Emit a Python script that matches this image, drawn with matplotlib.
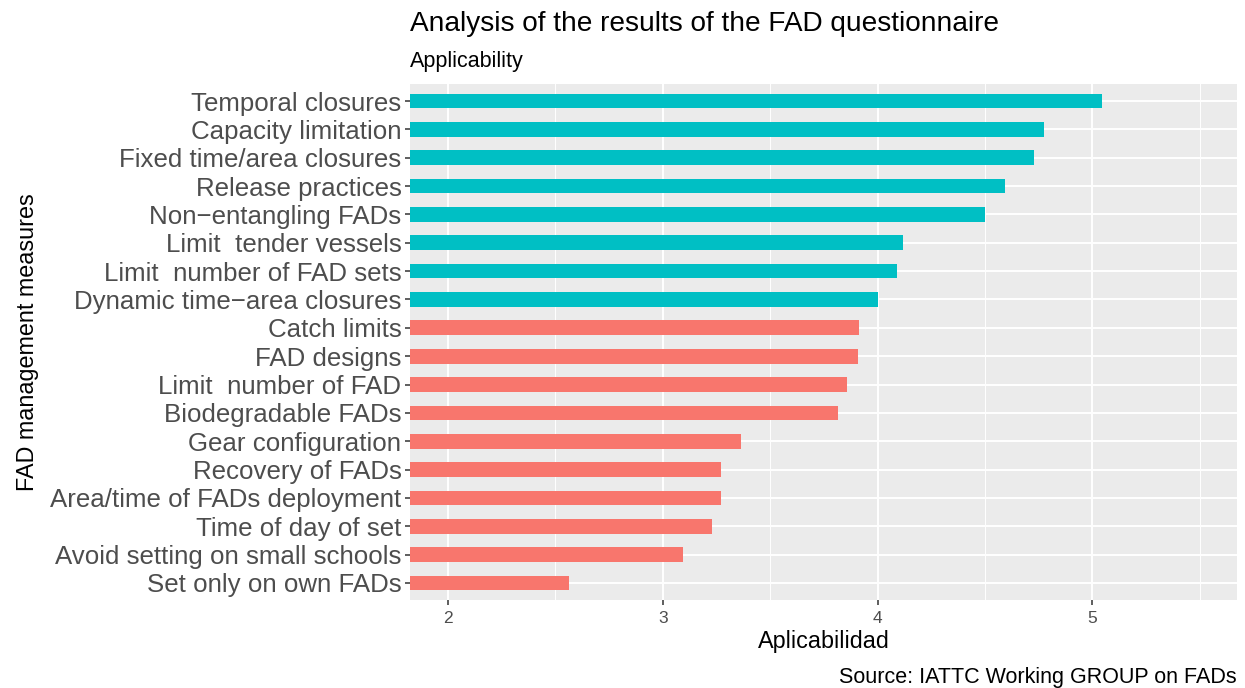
import matplotlib
matplotlib.use("Agg")
import matplotlib.pyplot as plt
from matplotlib.ticker import MultipleLocator

plt.rcParams['font.family'] = ['Liberation Sans', 'DejaVu Sans']

measures = [
    "Temporal closures", "Capacity limitation", "Fixed time/area closures",
    "Release practices", "Non\u2212entangling FADs", "Limit  tender vessels",
    "Limit  number of FAD sets", "Dynamic time\u2212area closures", "Catch limits",
    "FAD designs", "Limit  number of FAD", "Biodegradable FADs",
    "Gear configuration", "Recovery of FADs", "Area/time of FADs deployment",
    "Time of day of set", "Avoid setting on small schools", "Set only on own FADs",
]
values = [5.045, 4.776, 4.729, 4.595, 4.502, 4.121, 4.093, 4.000, 3.912,
          3.907, 3.859, 3.815, 3.366, 3.273, 3.273, 3.227, 3.095, 2.565]
group = ["high"] * 8 + ["low"] * 10
colors_map = {"high": "#00BFC4", "low": "#F8766D"}

W, H = 1245, 688
fig = plt.figure(figsize=(W / 100, H / 100), dpi=100)
left, right, top, bottom = 410, 1237, 84, 600
ax = fig.add_axes([left / W, 1 - bottom / H, (right - left) / W, (bottom - top) / H])
ax.set_facecolor("#EBEBEB")

n = len(measures)
ypos = list(range(n - 1, -1, -1))
ax.barh(ypos, values, height=0.52, color=[colors_map[g] for g in group], zorder=3)

ax.set_xlim(1.823, 5.674)
ax.set_ylim(-0.6, n - 1 + 0.6)
ax.xaxis.set_major_locator(MultipleLocator(1))
ax.xaxis.set_minor_locator(MultipleLocator(0.5))
ax.set_yticks(ypos)
ax.set_yticklabels(measures)

ax.grid(which="major", color="white", linewidth=1.4, zorder=1)
ax.grid(which="minor", axis="x", color="white", linewidth=0.7, zorder=1)
ax.tick_params(axis="y", which="minor", left=False)
ax.tick_params(axis="x", which="minor", bottom=False)
ax.tick_params(axis="both", which="major", length=3.7, width=1.1, color="#333333")
ax.tick_params(axis="y", labelsize=18.6, labelcolor="#4D4D4D", pad=2.5)
ax.tick_params(axis="x", labelsize=12.5, labelcolor="#4D4D4D", pad=4)
for s in ax.spines.values():
    s.set_visible(False)

ax.set_xlabel("Aplicabilidad", fontsize=16.8, color="black", labelpad=3)
ax.set_ylabel("FAD management measures", fontsize=16.8, color="black", labelpad=8)

fig.text(left / W, 1 - 24 / H, "Analysis of the results of the FAD questionnaire",
         fontsize=20.2, ha="left", va="center")
fig.text(left / W, 1 - 61 / H, "Applicability", fontsize=15.5, ha="left", va="center")
fig.text(right / W, 1 - 677 / H, "Source: IATTC Working GROUP on FADs",
         fontsize=15.5, ha="right", va="center")

fig.savefig("out.png", dpi=100)
